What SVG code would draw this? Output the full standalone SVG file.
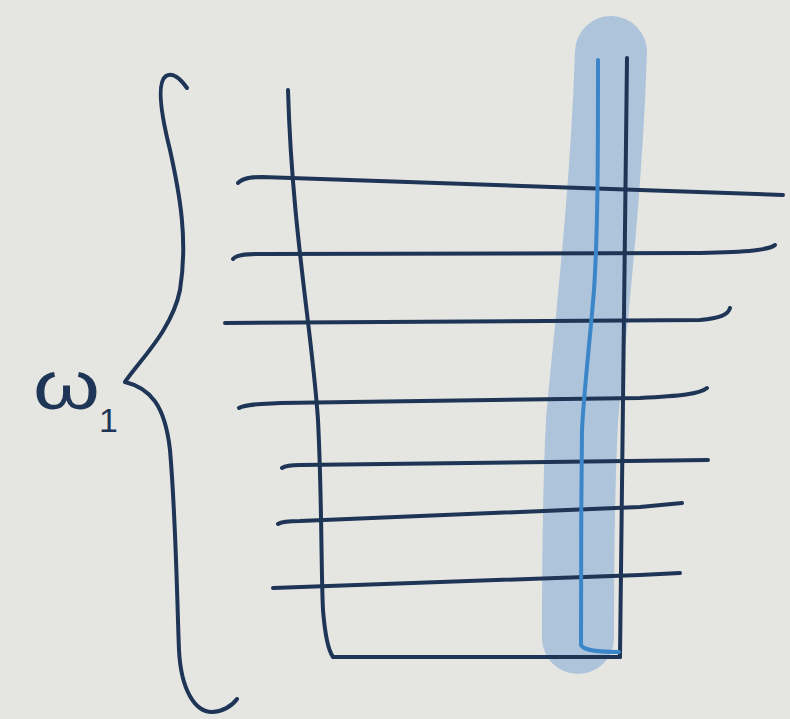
<svg xmlns="http://www.w3.org/2000/svg" width="790" height="719" viewBox="0 0 790 719">
<style>
.ink{fill:none;stroke:#1e3556;stroke-width:4;stroke-linecap:round;stroke-linejoin:round}
.hl{fill:none;stroke:#a6bfda;stroke-width:72;stroke-linecap:round;opacity:0.88}
.blue{fill:none;stroke:#3a86c8;stroke-width:4;stroke-linecap:round;stroke-linejoin:round}
.lbl{font-family:"Liberation Sans","DejaVu Sans",sans-serif;fill:#1e3556}
</style>
<rect width="790" height="719" fill="#e5e5e2"/>
<g id="highlight">
<path class="hl" d="M611,52 C606,200 590,330 582,420 C578,500 578,580 578,638"/>
</g>
<g id="brace">
<path class="ink" d="M187,88 C180,78 172,72 166,76 C157,82 160,110 170,150 C180,195 188,240 180,290 C172,330 140,360 125,382 C150,388 165,405 170,450 C176,520 177,600 179,650 C181,690 195,712 212,712 C222,712 232,706 237,699"/>
</g>
<g id="label">
<text class="lbl" x="33" y="409" font-size="68" textLength="67" lengthAdjust="spacingAndGlyphs">ω</text>
<text class="lbl" x="99" y="432" font-size="34">1</text>
</g>
<g id="grid">
<path class="ink" d="M288,90 C292,230 312,330 318,420 C322,500 321,570 323,610 C325,635 328,650 333,657 L620,657"/>
<path class="ink" d="M627,58 C625,250 622,450 620,657"/>
<path class="ink" d="M238,183 C242,178 250,177 262,177 L783,195"/>
<path class="ink" d="M233,259 C236,255 245,254 260,254 L700,253 C750,252 768,250 775,245"/>
<path class="ink" d="M225,323 L700,320 C720,318 728,315 730,308"/>
<path class="ink" d="M239,408 C245,404 260,404 280,403 L640,398 C680,396 700,394 707,388"/>
<path class="ink" d="M282,468 C285,466 292,465 300,465 L708,460"/>
<path class="ink" d="M278,524 C281,522 288,521 300,521 L640,507 L682,503"/>
<path class="ink" d="M273,588 L640,575 L680,573"/>
</g>
<g id="connectors">
<path class="blue" d="M598,60 C598,150 598,230 594,290 C590,340 584,390 582,430 C581,500 581,600 581,645 C584,651 600,652 619,652"/>
</g>
</svg>
